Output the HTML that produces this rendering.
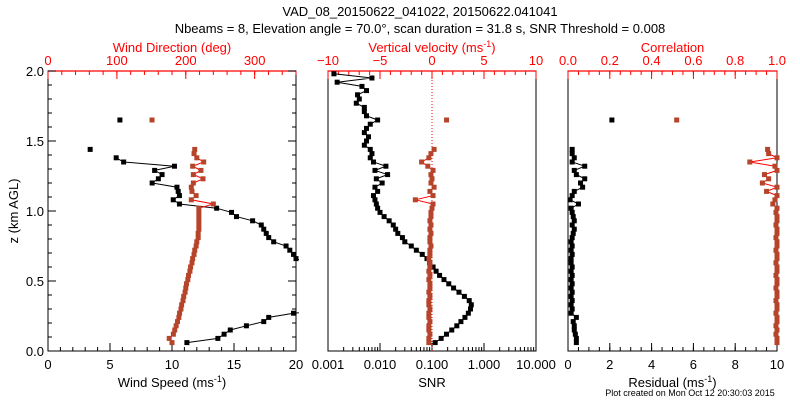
<!DOCTYPE html>
<html><head><meta charset="utf-8">
<style>
body{margin:0;background:#fff;}
svg{display:block;font-family:"Liberation Sans","DejaVu Sans",sans-serif;}
</style></head>
<body>
<svg id="chart" width="800" height="400" viewBox="0 0 800 400" xmlns="http://www.w3.org/2000/svg">
<text x="420" y="16" font-size="13" text-anchor="middle">VAD_08_20150622_041022, 20150622.041041</text>
<text x="420" y="33" font-size="13" text-anchor="middle">Nbeams = 8, Elevation angle = 70.0°, scan duration = 31.8 s, SNR Threshold = 0.008</text>
<text transform="translate(18,211) rotate(-90)" font-size="13" text-anchor="middle">z (km AGL)</text>
<text x="690" y="396" font-size="9" text-anchor="middle">Plot created on Mon Oct 12 20:30:03 2015</text>
<g id="plots"></g>
</svg>
<script>
const heights=[0.06,0.09,0.12,0.15,0.18,0.21,0.24,0.27,0.30,0.33,0.36,0.39,0.42,0.45,0.48,0.51,0.54,0.57,0.60,0.63,0.66,0.69,0.72,0.75,0.78,0.81,0.84,0.87,0.90,0.93,0.96,0.99,1.02,1.05,1.08,1.11,1.14,1.17,1.20,1.23,1.26,1.29,1.32,1.35,1.38,1.41,1.44,1.47,1.50,1.53,1.56,1.59,1.62,1.65,1.68,1.71,1.74,1.77,1.80,1.83,1.86,1.89,1.92,1.95,1.98];
const windSpeed=[11.2,13.7,14.2,14.7,16,17.4,17.8,19.8,24,27,28,29,28,27,26,25,24,23,22,21,20,19.8,19.5,19.2,18.2,17.8,17.6,17.4,17.2,16.5,15.2,14.8,13.6,10.6,10.1,10.6,10.5,10.4,8.4,8.9,9.2,8.6,10.2,6.1,5.5,null,3.4,null,null,null,null,null,null,5.8,null,null,null,null,null,null,null,null,null,null,null];
const windDir=[180,176,182,184,186,188,190,191,193,194,196,197,199,200,201,203,204,206,207,209,210,212,213,215,216,218,218,219,219,219,219,219,219,240,208,215,209,208,211,225,211,222,210,226,216,212,213,null,null,null,null,null,null,151,null,null,null,null,null,null,null,null,null,null,null];
const snr=[0.115,0.15,0.19,0.24,0.30,0.36,0.43,0.5,0.55,0.57,0.52,0.42,0.33,0.26,0.21,0.17,0.14,0.12,0.105,0.09,0.08,0.065,0.05,0.04,0.03,0.027,0.022,0.02,0.018,0.015,0.012,0.01,0.009,0.0085,0.008,0.0075,0.009,0.008,0.011,0.0085,0.014,0.008,0.013,0.0075,0.0065,0.007,0.0065,0.005,0.0055,0.006,0.005,0.0055,0.0065,0.009,0.0055,0.005,0.005,0.0035,0.004,0.0037,0.0055,0.0045,0.0015,0.007,0.0013];
const vertVel=[-0.3,-0.3,-0.2,-0.3,-0.3,-0.2,-0.3,-0.3,-0.2,-0.3,-0.3,-0.2,-0.3,-0.2,-0.2,-0.3,-0.2,-0.3,-0.2,-0.2,-0.3,-0.2,-0.2,-0.1,-0.2,-0.2,-0.1,-0.2,-0.1,-0.2,-0.1,-0.1,0,0.1,-1.6,0.1,-0.2,0.2,-0.1,0,-0.1,0.1,-0.4,-1.0,-0.3,-0.1,0.2,null,null,null,null,null,null,1.4,null,null,null,null,null,null,null,null,null,null,null];
const residual=[0.4,0.4,0.35,0.3,0.3,0.25,0.4,0.15,0.2,0.15,0.2,0.15,0.2,0.15,0.2,0.15,0.2,0.15,0.2,0.15,0.15,0.2,0.15,0.2,0.15,0.2,0.25,0.3,0.2,0.3,0.25,0.2,0.15,0.5,0.1,0.2,0.3,0.7,0.6,0.8,0.4,0.3,0.8,0.2,0.3,0.2,0.2,null,null,null,null,null,null,2.1,null,null,null,null,null,null,null,null,null,null,null];
const correlation=[1,1,0.995,1,0.995,1,1,0.995,1,1,0.995,1,1,0.995,1,1,0.995,1,1,0.995,1,1,0.995,1,1,0.995,1,1,0.995,1,1,0.995,1,0.98,0.99,1,0.95,1,0.93,0.96,0.94,1,0.99,0.87,1,0.96,0.955,null,null,null,null,null,null,0.52,null,null,null,null,null,null,null,null,null,null,null];

const NS='http://www.w3.org/2000/svg';
const root=document.getElementById('plots');
const TOP=71,BOT=351;
const yScale=z=>BOT-(z/2)*(BOT-TOP);
function mk(tag,attrs,parent){const e=document.createElementNS(NS,tag);for(const k in attrs)e.setAttribute(k,attrs[k]);(parent||root).appendChild(e);return e;}
function txt(s,x,y,fill,anchor,size,parent){const t=mk('text',{x:x,y:y,fill:fill,'text-anchor':anchor||'middle','font-size':size||13},parent);t.textContent=s;return t;}

function panel(id,L,R,bottom,top,yTicks){
  const g=mk('g',{});
  
  
  const cp=mk('clipPath',{id:id+'-clip'},g);mk('rect',{x:L-3,y:TOP,width:R-L+6,height:BOT-TOP},cp);
  mk('rect',{x:L,y:TOP,width:R-L,height:BOT-TOP,fill:'none',stroke:'#000','stroke-width':1},g);
  mk('line',{x1:L,y1:TOP,x2:R,y2:TOP,stroke:'#f00','stroke-width':1.2},g);
  bottom.minor.forEach(v=>{const x=bottom.f(v);mk('line',{x1:x,y1:BOT,x2:x,y2:BOT-4,stroke:'#000'},g);});
  bottom.major.forEach((v,i)=>{const x=bottom.f(v);mk('line',{x1:x,y1:BOT,x2:x,y2:BOT-8,stroke:'#000'},g);
    const t=txt(bottom.labels[i],x,369,'#000','middle',13,g);});
  const bt=txt(bottom.title,(L+R)/2,387,'#000','middle',13,g);
  
  if(bottom.sup){const ts=mk('tspan',{dy:-5,'font-size':9},bt);ts.textContent='-1';const t2=mk('tspan',{dy:5},bt);t2.textContent=')';}
  top.minor.forEach(v=>{const x=top.f(v);mk('line',{x1:x,y1:TOP,x2:x,y2:TOP+4,stroke:'#f00'},g);});
  top.major.forEach((v,i)=>{const x=top.f(v);mk('line',{x1:x,y1:TOP,x2:x,y2:TOP+8,stroke:'#f00'},g);
    const t=txt(top.labels[i],x,65,'#f00','middle',13,g);});
  const tt=txt(top.title,(L+R)/2,52,'#f00','middle',13,g);
  
  if(top.sup){const ts=mk('tspan',{dy:-5,'font-size':9},tt);ts.textContent='-1';const t2=mk('tspan',{dy:5},tt);t2.textContent=')';}
  if(yTicks){
    for(let z=0;z<=2.0001;z+=0.1){const y=yScale(z);const maj=Math.abs(z*2-Math.round(z*2))<1e-6;const len=maj?8:4;
      mk('line',{x1:L,y1:y,x2:L+len,y2:y,stroke:'#000'},g);mk('line',{x1:R,y1:y,x2:R-len,y2:y,stroke:'#000'},g);
      if(maj){const t=txt(z.toFixed(1),L-4,y+5,'#000','end',13,g);}}
  }
  return g;
}
function series(g,id,vals,xf,lineColor,ptColor,name){
  const cg=mk('g',{'clip-path':'url(#'+id+'-clip)'},g);
  let seg=[];
  const flush=()=>{if(seg.length>1){const pl=mk('polyline',{points:seg.join(' '),fill:'none',stroke:lineColor,'stroke-width':1},cg);
    }seg=[];};
  vals.forEach((v,i)=>{if(v===null){flush();return;}seg.push(xf(v).toFixed(1)+','+yScale(heights[i]).toFixed(1));});
  flush();
  vals.forEach((v,i)=>{if(v===null)return;const p=mk('rect',{x:xf(v)-2.5,y:yScale(heights[i])-2.5,width:5,height:5,fill:ptColor},cg);
    });
}
function range(a,b,s){const r=[];for(let v=a;v<=b+1e-9;v+=s)r.push(+v.toFixed(6));return r;}
const BROWN='#b5442a';

const p1L=48,p1R=296;
const wsX=v=>p1L+(v/20)*(p1R-p1L), wdX=v=>p1L+(v/360)*(p1R-p1L);
const g1=panel('wind',p1L,p1R,
 {f:wsX,major:[0,5,10,15,20],labels:['0','5','10','15','20'],minor:range(0,20,1),title:'Wind Speed (ms',sup:true},
 {f:wdX,major:[0,100,200,300],labels:['0','100','200','300'],minor:range(0,360,20),title:'Wind Direction (deg)'},true);
series(g1,'wind',windSpeed,wsX,'#000','#000','wind-speed');
series(g1,'wind',windDir,wdX,'#f00',BROWN,'wind-direction');

const p2L=328,p2R=536;
const snrX=v=>p2L+((Math.log10(v)+3)/4)*(p2R-p2L), vvX=v=>p2L+((v+10)/20)*(p2R-p2L);
const minLog=[];for(let d=-3;d<1;d++)for(let k=1;k<10;k++)minLog.push(k*Math.pow(10,d));
const g2=panel('snr',p2L,p2R,
 {f:snrX,major:[0.001,0.01,0.1,1,10],labels:['0.001','0.010','0.100','1.000','10.000'],minor:minLog,title:'SNR'},
 {f:vvX,major:[-10,-5,0,5,10],labels:['\u221210','\u22125','0','5','10'],minor:range(-10,10,1),title:'Vertical velocity (ms',sup:true},false);
const zl=mk('line',{x1:vvX(0),y1:TOP,x2:vvX(0),y2:BOT,stroke:'#f00','stroke-dasharray':'1,2'},g2);

series(g2,'snr',snr,snrX,'#000','#000','snr');
series(g2,'snr',vertVel,vvX,'#f00',BROWN,'vertical-velocity');

const p3L=568,p3R=777;
const resX=v=>p3L+(v/10)*(p3R-p3L), corX=v=>p3L+v*(p3R-p3L);
const g3=panel('res',p3L,p3R,
 {f:resX,major:[0,2,4,6,8,10],labels:['0','2','4','6','8','10'],minor:range(0,10,0.5),title:'Residual (ms',sup:true},
 {f:corX,major:[0,0.2,0.4,0.6,0.8,1],labels:['0.0','0.2','0.4','0.6','0.8','1.0'],minor:range(0,1,0.05),title:'Correlation'},false);
series(g3,'res',residual,resX,'#000','#000','residual');
series(g3,'res',correlation,corX,'#f00',BROWN,'correlation');
</script>
</body></html>
